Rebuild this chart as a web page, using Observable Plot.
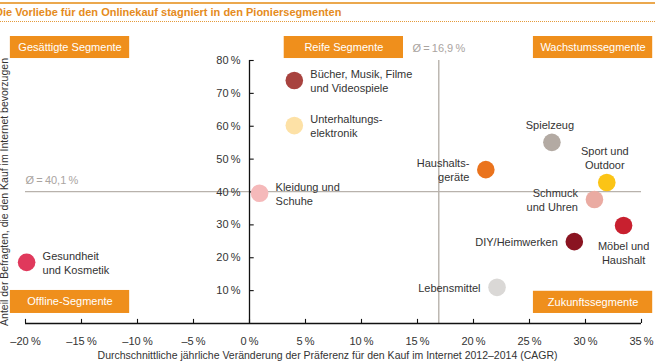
<!DOCTYPE html>
<html>
<head>
<meta charset="utf-8">
<script src="https://cdn.jsdelivr.net/npm/d3@7"></script>
<script src="https://cdn.jsdelivr.net/npm/@observablehq/plot@0.6"></script>
<style>
  html, body { margin: 0; padding: 0; background: #fff; }
  #wrap { position: relative; width: 655px; height: 364px; overflow: hidden; font-family: "Liberation Sans", Arial, sans-serif; }
  #topline { position: absolute; left: 0; top: 2px; width: 655px; border-top: 2px solid #eba84e; }
  #title { position: absolute; left: -5px; top: 6px; font-size: 11px; font-weight: bold; color: #e58b20; white-space: nowrap; }
  #dotline { position: absolute; left: 0; top: 21px; width: 655px; border-top: 1px dotted #e59a3a; }
  #chart { position: absolute; left: 0; top: 0; }
</style>
</head>
<body>
<div id="wrap">
  <div id="chart"></div>
  <div id="topline"></div>
  <div id="title">Die Vorliebe für den Onlinekauf stagniert in den Pioniersegmenten</div>
  <div id="dotline"></div>
</div>
<script>
// ---- data ----
const categories = [
  "Gesundheit\nund Kosmetik",
  "Bücher, Musik, Filme\nund Videospiele",
  "Unterhaltungs-\nelektronik",
  "Kleidung und\nSchuhe",
  "Spielzeug",
  "Haushalts-\ngeräte",
  "Sport und\nOutdoor",
  "Schmuck\nund Uhren",
  "Möbel und\nHaushalt",
  "DIY/Heimwerken",
  "Lebensmittel"
];
const cagr  = [-19.9, 4.0, 4.0, 0.9, 27.0, 21.1, 31.9, 30.8, 33.4, 29.0, 22.1];
const share = [18.6, 73.9, 60.2, 39.6, 55.1, 46.8, 42.9, 37.7, 29.8, 24.9, 11.0];
const xTicks = [-20, -15, -10, -5, 0, 5, 10, 15, 20, 25, 30, 35];
const yTicks = [10, 20, 30, 40, 50, 60, 70, 80];
const meanShare = 40.1;
const meanCagr = 16.9;
const quadrantNames = ["Gesättigte Segmente", "Reife Segmente", "Wachstumssegmente", "Offline-Segmente", "Zukunftssegmente"];

// ---- styles / layout ----
const colors = ["#e0395c", "#a8433f", "#fde1a6", "#f5b9ba", "#b3aaa3", "#ea731d", "#fbc416", "#eaaba2", "#c8202f", "#8a1421", "#dad8d6"];
const placement = ["right", "right", "right", "right", "above", "left", "above", "left", "below", "left", "left"];
// quadrant box extents in data units
const quadBoxes = [
  {x1: -21.35, x2: -10.7, y1: 80.6, y2: 87.3},
  {x1: 3.1, x2: 13.75, y1: 80.6, y2: 87.3},
  {x1: 25.35, x2: 36.0, y1: 80.6, y2: 87.3},
  {x1: -21.35, x2: -10.7, y1: 3.05, y2: 10.05},
  {x1: 25.35, x2: 36.0, y1: 3.05, y2: 9.8}
];

const points = categories.map((c, i) => ({label: c, x: cagr[i], y: share[i], color: colors[i], place: placement[i]}));
const quads = quadrantNames.map((n, i) => ({name: n, ...quadBoxes[i]}));

const pct = v => (v < 0 ? "\u2013" + Math.abs(v) : String(v)) + "\u2009%";
const fmtDe = v => String(v).replace(".", ",");
const textColor = "#333";
const meanColor = "#b8b2ac";
const orange = "#ef8f1c";

const chart = Plot.plot({
  width: 655,
  height: 364,
  marginLeft: 25,
  marginRight: 14,
  marginTop: 60,
  marginBottom: 41,
  style: {fontFamily: "'Liberation Sans', Arial, sans-serif", fontSize: "11px", background: "transparent"},
  x: {domain: [-20, 35], axis: null},
  y: {domain: [0, 80], axis: null},
  marks: [
    // mean lines
    Plot.ruleY([meanShare], {stroke: meanColor, strokeWidth: 1.4}),
    Plot.ruleX([meanCagr], {y1: 0, y2: 80, stroke: meanColor, strokeWidth: 1.4}),
    Plot.text([meanShare], {x: -20, y: d => d, text: d => "Ø\u2009=\u2009" + fmtDe(d) + "\u2009%", textAnchor: "start", dy: -11, fill: "#aaa49f"}),
    Plot.text([meanCagr], {x: d => d, y: 80, text: d => "Ø\u2009=\u2009" + fmtDe(d) + "\u2009%", textAnchor: "middle", dy: -12, fill: "#aaa49f"}),
    // axes
    Plot.ruleY([0], {stroke: "#111", strokeWidth: 1.3}),
    Plot.ruleX([0], {y1: 0, y2: 80, stroke: "#111", strokeWidth: 1.3}),
    Plot.ruleX(xTicks, {x: d => d, y1: 0, y2: 1.25, stroke: "#111", strokeWidth: 1.1}),
    Plot.ruleY(yTicks, {y: d => d, x1: 0, x2: 0.42, stroke: "#111", strokeWidth: 1.1}),
    Plot.text(xTicks, {x: d => d, y: 0, dy: 18, text: pct, fill: textColor}),
    Plot.text(yTicks, {x: 0, y: d => d, dx: -9, text: pct, textAnchor: "end", fill: textColor}),
    Plot.text(["Durchschnittliche jährliche Veränderung der Präferenz für den Kauf im Internet 2012–2014 (CAGR)"],
      {frameAnchor: "bottom", text: d => d, textAnchor: "middle", lineAnchor: "middle", dy: 32, dx: -6, fontSize: 10.5, fill: textColor}),
    Plot.text(["Anteil der Befragten, die den Kauf im Internet bevorzugen"],
      {frameAnchor: "left", text: d => d, textAnchor: "middle", lineAnchor: "middle", rotate: -90, dx: -21, dy: 0, fontSize: 10.5, fill: textColor}),
    // quadrant boxes
    Plot.rect(quads, {x1: "x1", x2: "x2", y1: "y1", y2: "y2", fill: orange}),
    Plot.text(quads, {x: d => (d.x1 + d.x2) / 2, y: d => (d.y1 + d.y2) / 2, text: "name", fill: "white", fontSize: 11}),
    // points
    Plot.dot(points, {x: "x", y: "y", r: 8.8, fill: "color", stroke: "none"}),
    // labels
    Plot.text(points.filter(d => d.place === "right"), {x: "x", y: "y", text: "label", textAnchor: "start", dx: 16, lineHeight: 1.3, fill: textColor}),
    Plot.text(points.filter(d => d.place === "left"), {x: "x", y: "y", text: "label", textAnchor: "end", dx: -16.5, lineHeight: 1.3, fill: textColor}),
    Plot.text(points.filter(d => d.place === "above"), {x: "x", y: "y", text: "label", textAnchor: "middle", lineAnchor: "bottom", dy: -13, dx: -2, lineHeight: 1.3, fill: textColor}),
    Plot.text(points.filter(d => d.place === "below"), {x: "x", y: "y", text: "label", textAnchor: "middle", lineAnchor: "top", dy: 14, lineHeight: 1.3, fill: textColor})
  ]
});
document.getElementById("chart").appendChild(chart);
</script>
</body>
</html>
